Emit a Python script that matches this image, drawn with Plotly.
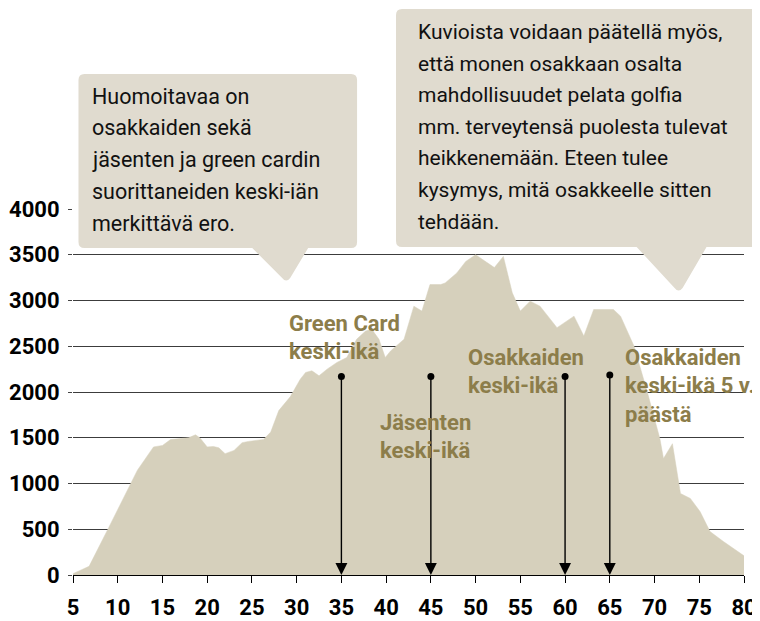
import plotly.graph_objects as go

# ---------------- data ----------------
ages = [5, 6.8, 9, 12.2, 14.0, 15.0, 15.9, 17.9, 18.7, 19.2, 20.0, 20.7, 21.3, 22.0, 23.0,
        23.9, 24.6, 26.3, 27.1, 28.0, 29.3, 30.4, 31.0, 31.7, 32.5, 33.4, 34.5, 35.6, 36.7,
        37.7, 38.4, 39.2, 39.9, 40.5, 42.0, 43.1, 44.0, 44.9, 46.1, 46.6, 47.9, 48.9, 50.0,
        51.3, 52.1, 53.1, 54.1, 55.0, 56.1, 57.2, 59.1, 61.0, 62.1, 63.2, 65.4, 66.2, 67.7,
        69.2, 70.6, 71.0, 72.0, 72.9, 74.0, 75.1, 76.2, 77.7, 80.0]
counts = [15, 95, 520, 1145, 1400, 1416, 1480, 1500, 1532, 1497, 1400, 1405, 1390, 1326, 1362,
          1446, 1460, 1482, 1562, 1797, 1950, 2140, 2214, 2232, 2177, 2250, 2323, 2377, 2576,
          2666, 2685, 2576, 2377, 2449, 2576, 2938, 2884, 3174, 3174, 3192, 3301, 3427, 3500,
          3409, 3360, 3482, 3084, 2884, 2993, 2938, 2703, 2829, 2612, 2902, 2902, 2829, 2503,
          1997, 1489, 1272, 1435, 891, 837, 692, 475, 366, 210]

x_ticks = [5, 10, 15, 20, 25, 30, 35, 40, 45, 50, 55, 60, 65, 70, 75, 80]
y_ticks = [0, 500, 1000, 1500, 2000, 2500, 3000, 3500, 4000]

marker_ages = [35, 45, 60, 65]
marker_tops = [2170, 2170, 2170, 2185]
marker_labels = [["Green Card", "keski-ikä"],
                 ["Jäsenten", "keski-ikä"],
                 ["Osakkaiden", "keski-ikä"],
                 ["Osakkaiden", "keski-ikä 5 v.", "päästä"]]

note1 = ["Huomoitavaa on", "osakkaiden sekä", "jäsenten ja green cardin",
         "suorittaneiden keski-iän", "merkittävä ero."]
note2 = ["Kuvioista voidaan päätellä myös,", "että monen osakkaan osalta",
         "mahdollisuudet pelata golfia", "mm. terveytensä puolesta tulevat",
         "heikkenemään. Eteen tulee", "kysymys, mitä osakkeelle sitten", "tehdään."]

# ---------------- layout geometry ----------------
# The page has an 8px body margin, so the figure is drawn 8px right/down.
OFF = 8
W, H = 760 - OFF, 621 - OFF
ML, MR, MT, MB = 64.5, 15.5, 201, 46
PW, PH = W - ML - MR, H - MT - MB

def px(xs):  # screen x pixel -> paper
    return (xs - OFF - ML) / PW

def py(ys):  # screen y pixel -> paper
    return (H - MB - (ys - OFF)) / PH

AREA = "#d6d0bc"
BOX = "#e0dbcf"
OLIVE = "#8c7d4a"
TXT_FONT = "Roboto"

fig = go.Figure()
fig.add_trace(go.Scatter(x=ages, y=counts, mode="lines", fill="tozeroy",
                         fillcolor=AREA, line=dict(color=AREA, width=0.5),
                         hoverinfo="skip", showlegend=False))
fig.add_trace(go.Scatter(x=marker_ages, y=marker_tops, mode="markers",
                         marker=dict(color="black", size=7), hoverinfo="skip",
                         showlegend=False, cliponaxis=False))

for a, t in zip(marker_ages, marker_tops):
    fig.add_annotation(x=a, y=0, ax=a, ay=t, xref="x", yref="y", axref="x", ayref="y",
                       text="", showarrow=True, arrowhead=2, arrowsize=1.7,
                       arrowwidth=1.4, arrowcolor="black")

# label texts (left x px, first line center y px) in screen pixels
label_pos = [(287, 323), (378, 422), (466, 357), (623, 357)]
for (lx, ly), lines in zip(label_pos, marker_labels):
    for i, s in enumerate(lines):
        fig.add_annotation(x=px(lx), y=py(ly + i * 28.5), xref="paper", yref="paper",
                           text=s, showarrow=False, xanchor="left", yanchor="middle",
                           font=dict(family=TXT_FONT, size=22, color=OLIVE, weight="bold"))

def rounded_box_path(x0, y0, x1, y1, r, pl, pr, tipx, tipy):
    pts = [f"M{px(x0 + r)},{py(y0)}",
           f"L{px(x1 - r)},{py(y0)}",
           f"Q{px(x1)},{py(y0)} {px(x1)},{py(y0 + r)}",
           f"L{px(x1)},{py(y1 - r)}",
           f"Q{px(x1)},{py(y1)} {px(x1 - r)},{py(y1)}",
           f"L{px(pr)},{py(y1)}",
           f"L{px(tipx + 4)},{py(tipy - 4)}",
           f"Q{px(tipx)},{py(tipy + 1)} {px(tipx - 4)},{py(tipy - 4)}",
           f"L{px(pl)},{py(y1)}",
           f"L{px(x0 + r)},{py(y1)}",
           f"Q{px(x0)},{py(y1)} {px(x0)},{py(y1 - r)}",
           f"L{px(x0)},{py(y0 + r)}",
           f"Q{px(x0)},{py(y0)} {px(x0 + r)},{py(y0)}", "Z"]
    return " ".join(pts)

fig.add_shape(type="path", xref="paper", yref="paper", layer="above",
              path=rounded_box_path(78, 74, 357, 248, 6, 252, 308, 286, 282),
              fillcolor=BOX, line=dict(width=0))
fig.add_shape(type="path", xref="paper", yref="paper", layer="above",
              path=rounded_box_path(396, 9, 757, 247, 6, 637, 707, 679, 292),
              fillcolor=BOX, line=dict(width=0))

for i, s in enumerate(note1):
    fig.add_annotation(x=px(90), y=py(96 + i * 31.75), xref="paper", yref="paper",
                       text=s, showarrow=False, xanchor="left", yanchor="middle",
                       font=dict(family=TXT_FONT, size=21.5, color="#111111"))
for i, s in enumerate(note2):
    fig.add_annotation(x=px(416), y=py(32 + i * 31.6), xref="paper", yref="paper",
                       text=s, showarrow=False, xanchor="left", yanchor="middle",
                       font=dict(family=TXT_FONT, size=21, color="#111111"))

fig.update_layout(
    width=W, height=H, margin=dict(l=ML, r=MR, t=MT, b=MB, autoexpand=False),
    paper_bgcolor="white", plot_bgcolor="white", showlegend=False,
    xaxis=dict(range=[5, 80], tickvals=x_ticks, ticks="outside", ticklen=7,
               tickcolor="black", tickwidth=1.2, showline=True, linecolor="black",
               linewidth=1.4, showgrid=False, zeroline=False, automargin=False,
               tickfont=dict(family="Roboto", size=22, color="black", weight="bold"),
               ticklabelstandoff=5),
    yaxis=dict(range=[0, 4000], tickvals=y_ticks, ticks="outside", ticklen=4,
               tickcolor="#444444", showline=False, showgrid=True, automargin=False,
               gridcolor="#3c3c3c", gridwidth=1, zeroline=False,
               tickfont=dict(family="Roboto", size=22, color="black", weight="bold"),
               ticklabelstandoff=4),
)

fig.write_html("out.html")
